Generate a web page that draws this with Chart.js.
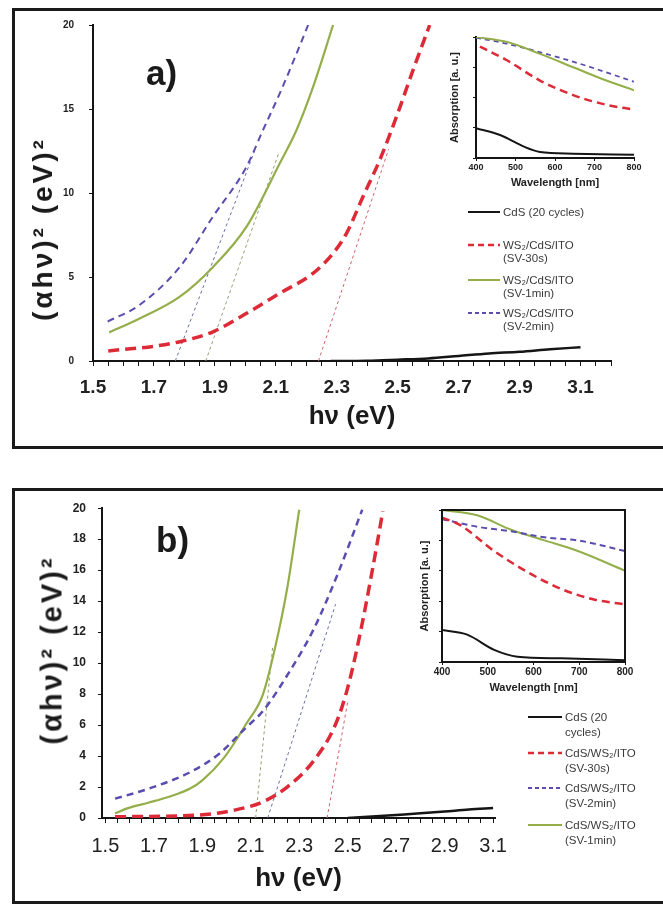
<!DOCTYPE html>
<html>
<head>
<meta charset="utf-8">
<script src="https://cdn.jsdelivr.net/npm/chart.js@4.4.0/dist/chart.umd.min.js"></script>
<style>
  body { margin: 0; background: #fff; width: 663px; height: 905px; overflow: hidden; position: relative;
         font-family: 'Liberation Sans', Arial, sans-serif; }
  .box { position: absolute; border: 3px solid #1a1a1a; box-sizing: border-box; }
  canvas { position: absolute; }
  .tag { position: absolute; font-weight: bold; color: #1a1a1a; line-height: 1; }
  .ytitle { position: absolute; font-weight: bold; color: #1a1a1a; white-space: nowrap; letter-spacing: 3px;
            transform: translate(-50%, -50%) rotate(-90deg); line-height: 1; }
  .leg { position: absolute; font-size: 11.5px; color: #3a3a3a; white-space: nowrap; }
  .leg svg { position: absolute; overflow: visible; }
</style>
</head>
<body>
<div class="box" style="left:12px; top:8px; width:670px; height:441px;"></div>
<div class="box" style="left:12px; top:488px; width:670px; height:416px;"></div>

<canvas id="mainA" width="663" height="447" style="left:0; top:0;"></canvas>
<canvas id="insetA" width="223" height="170" style="left:440px; top:25px;"></canvas>
<canvas id="mainB" width="663" height="413" style="left:0; top:489px;"></canvas>
<canvas id="insetB" width="258" height="205" style="left:405px; top:495px;"></canvas>

<div class="tag" style="left:146px; top:55px; font-size:35px;">a)</div>
<div class="tag" style="left:156px; top:522px; font-size:35px;">b)</div>
<div class="ytitle" style="left:43px; top:229px; font-size:28px;">(αhν)² (eV)²</div>
<div class="ytitle" style="left:52px; top:650px; font-size:29px;">(αhν)² (eV)²</div>

<script>
// ---- panel a: Tauc plot, hv (eV) vs (ahv)^2 ----
const aCdsX  = [2.28, 2.4, 2.5, 2.6, 2.7, 2.8, 2.9, 3.0, 3.1];
const aCdsY  = [0, 0.02, 0.08, 0.15, 0.3, 0.45, 0.55, 0.7, 0.82];
const a30sX  = [1.55, 1.71, 1.785, 1.894, 2.004, 2.113, 2.222, 2.288, 2.332, 2.386, 2.441, 2.496, 2.55, 2.605];
const a30sY  = [0.6, 0.9, 1.15, 1.74, 2.84, 4.03, 5.22, 6.41, 7.6, 9.78, 11.96, 14.54, 17.3, 20];
const a1minX = [1.553, 1.65, 1.785, 1.894, 2.004, 2.113, 2.168, 2.222, 2.288];
const a1minY = [1.7, 2.5, 3.83, 5.6, 8.0, 11.77, 13.75, 16.3, 20];
const a2minX = [1.548, 1.65, 1.785, 1.894, 2.004, 2.058, 2.113, 2.168, 2.206];
const a2minY = [2.35, 3.3, 5.6, 8.6, 11.57, 13.75, 15.93, 18.3, 20];
// linear fits (band gap extrapolation)
const aFit2minX = [1.77, 2.03];  const aFit2minY = [0, 12.5];
const aFit1minX = [1.87, 2.11];  const aFit1minY = [0, 12.4];
const aFit30sX  = [2.24, 2.47];  const aFit30sY  = [0, 12.6];
const aTickLabels = ['1.5', '1.7', '1.9', '2.1', '2.3', '2.5', '2.7', '2.9', '3.1'];

// ---- panel a inset: absorption vs wavelength (nm) ----
const aInsCdsX  = [400, 461, 520, 562, 646, 800];
const aInsCdsY  = [0.247, 0.19, 0.096, 0.05, 0.036, 0.027];
const aIns30sX  = [410, 477, 562, 646, 730, 800];
const aIns30sY  = [0.92, 0.81, 0.64, 0.52, 0.44, 0.40];
const aIns1minX = [400, 477, 562, 646, 730, 800];
const aIns1minY = [1.0, 0.96, 0.86, 0.75, 0.64, 0.56];
const aIns2minX = [400, 477, 604, 688, 800];
const aIns2minY = [0.995, 0.945, 0.836, 0.753, 0.63];

// ---- panel b ----
const bCdsX  = [2.5, 2.6, 2.7, 2.8, 2.9, 3.0, 3.1];
const bCdsY  = [0, 0.1, 0.2, 0.3, 0.42, 0.55, 0.65];
const b30sX  = [1.54, 1.89, 2.03, 2.15, 2.25, 2.36, 2.45, 2.5, 2.55, 2.6, 2.645];
const b30sY  = [0.08, 0.19, 0.5, 1.04, 2.0, 3.7, 6.05, 8.4, 11.8, 15.85, 19.8];
const b2minX = [1.54, 1.68, 1.85, 1.97, 2.08, 2.15, 2.25, 2.36, 2.46, 2.56];
const b2minY = [1.25, 1.9, 2.96, 4.15, 5.83, 6.9, 9.2, 12.2, 15.8, 19.9];
const b1minX = [1.54, 1.59, 1.68, 1.76, 1.85, 1.9, 1.99, 2.08, 2.15, 2.2, 2.25, 2.3];
const b1minY = [0.3, 0.62, 1.0, 1.36, 1.9, 2.43, 3.9, 6.05, 7.97, 10.97, 14.8, 19.9];
const bFit1minX = [2.12, 2.19];  const bFit1minY = [0, 11];
const bFit2minX = [2.17, 2.45];  const bFit2minY = [0, 13.8];
const bFit30sX  = [2.415, 2.5];  const bFit30sY  = [0, 7.5];
const bTickLabels = ['1.5', '1.7', '1.9', '2.1', '2.3', '2.5', '2.7', '2.9', '3.1'];

const bInsCdsX  = [400, 455, 514, 565, 661, 800];
const bInsCdsY  = [0.21, 0.18, 0.08, 0.035, 0.024, 0.012];
const bIns30sX  = [400, 440, 514, 588, 661, 734, 800];
const bIns30sY  = [0.95, 0.9, 0.73, 0.59, 0.48, 0.41, 0.38];
const bIns2minX = [400, 477, 551, 624, 697, 800];
const bIns2minY = [0.94, 0.89, 0.86, 0.82, 0.8, 0.73];
const bIns1minX = [400, 477, 551, 624, 697, 800];
const bIns1minY = [1.0, 0.965, 0.87, 0.8, 0.73, 0.6];

const aLegend = [['CdS (20 cycles)'], ['WS₂/CdS/ITO', '(SV-30s)'], ['WS₂/CdS/ITO', '(SV-1min)'], ['WS₂/CdS/ITO', '(SV-2min)']];
const bLegend = [['CdS (20', 'cycles)'], ['CdS/WS₂/ITO', '(SV-30s)'], ['CdS/WS₂/ITO', '(SV-2min)'], ['CdS/WS₂/ITO', '(SV-1min)']];

const RED = '#dc2a36', BLUE = '#5a4db0', GREEN = '#94ae4a', BLACK = '#151515';
const FONT = "'Liberation Sans', Arial, sans-serif";
Chart.defaults.font.family = FONT;

function pts(xs, ys) {
    return xs.map((x, i) => ({ x: x, y: ys[i] }));
}

function curve(label, xs, ys, color, width, dash) {
    return {
        label: label,
        data: pts(xs, ys),
        borderColor: color,
        borderWidth: width,
        borderDash: dash || [],
        pointRadius: 0,
        fill: false,
        cubicInterpolationMode: 'monotone'
    };
}

function fitLine(xs, ys, color) {
    return { label: 'fit', data: pts(xs, ys), borderColor: color, borderWidth: 1,
             borderDash: [3, 3], pointRadius: 0, fill: false };
}

// minor ticks every 0.05 eV between the labelled ones
function energyTicks(labels, upTo) {
    const first = parseFloat(labels[0]);
    const out = [];
    for (let i = 0; first + i * 0.05 <= upTo + 1e-9; i++) {
        out.push({ value: Math.round((first + i * 0.05) * 1000) / 1000 });
    }
    return out;
}

// strokes the whole plot area (inset b has a closed frame)
const framePlugin = {
    id: 'frame',
    afterDraw(chart, args, opts) {
        if (!opts.show) return;
        const a = chart.chartArea, ctx = chart.ctx;
        ctx.save();
        ctx.strokeStyle = BLACK;
        ctx.lineWidth = 2;
        ctx.strokeRect(a.left, a.top, a.right - a.left, a.bottom - a.top);
        ctx.restore();
    }
};

function mainChart(id, datasets, o) {
    new Chart(document.getElementById(id), {
        type: 'line',
        data: { datasets: datasets },
        options: {
            responsive: false,
            animation: false,
            layout: { padding: { top: o.top, right: o.right, left: 0, bottom: 0 } },
            plugins: { legend: { display: false }, tooltip: { enabled: false } },
            scales: {
                x: {
                    type: 'linear', min: o.xMin, max: o.xMax,
                    afterFit: s => { s.height = o.xHeight; },
                    afterBuildTicks: s => { s.ticks = energyTicks(o.labels, o.tickEnd); },
                    ticks: {
                        autoSkip: false, maxRotation: 0, padding: o.xPad,
                        color: '#222', font: { size: o.xSize, weight: o.xWeight },
                        callback: v => {
                            const k = (v - 1.5) / 0.2;
                            return Math.abs(k - Math.round(k)) < 1e-6 ? o.labels[Math.round(k)] : '';
                        }
                    },
                    grid: { drawOnChartArea: false, tickLength: 5, color: BLACK },
                    border: { color: BLACK, width: 2 },
                    title: { display: true, text: 'hν (eV)', color: '#1a1a1a',
                             font: { size: 26, weight: 'bold' }, padding: { top: 0, bottom: o.titlePad } }
                },
                y: {
                    min: 0, max: 20,
                    afterFit: s => { s.width = o.yWidth; },
                    ticks: { stepSize: o.yStep, padding: o.yPad, color: '#222',
                             font: { size: o.ySize, weight: 'bold' } },
                    grid: { drawOnChartArea: false, tickLength: 4, color: BLACK },
                    border: { color: BLACK, width: 2 }
                }
            }
        }
    });
}

function insetChart(id, datasets, o) {
    new Chart(document.getElementById(id), {
        type: 'line',
        data: { datasets: datasets },
        options: {
            responsive: false,
            animation: false,
            layout: { padding: { top: o.top, right: o.right, left: 0, bottom: 0 } },
            plugins: { legend: { display: false }, tooltip: { enabled: false }, frame: { show: o.frame } },
            scales: {
                x: {
                    type: 'linear', min: 400, max: 800,
                    afterFit: s => { s.height = o.xHeight; },
                    ticks: { stepSize: 100, maxRotation: 0, padding: 1, color: '#222',
                             font: { size: o.tickSize, weight: 'bold' } },
                    grid: { drawOnChartArea: false, tickLength: 3, color: BLACK },
                    border: { color: BLACK, width: 2 },
                    title: { display: true, text: 'Wavelength [nm]', color: '#222',
                             font: { size: 11, weight: 'bold' }, padding: { top: 0, bottom: o.titlePad } }
                },
                y: {
                    min: 0, max: 1,
                    afterFit: s => { s.width = o.yWidth; },
                    ticks: { stepSize: o.yStep, callback: () => '' },
                    grid: { drawOnChartArea: false, tickLength: 3, color: BLACK },
                    border: { color: BLACK, width: 2 },
                    title: { display: true, text: 'Absorption [a. u.]', color: '#222',
                             font: { size: 11, weight: 'bold' }, padding: { top: o.yTitlePad, bottom: 0 } }
                }
            }
        },
        plugins: [framePlugin]
    });
}

// HTML legend: swatch line + wrapped label
function legend(x0, x1, textX, ys, labels, styles, lineH) {
    labels.forEach((lines, i) => {
        const st = styles[i];
        const svg = document.createElementNS('http://www.w3.org/2000/svg', 'svg');
        svg.setAttribute('width', x1 - x0);
        svg.setAttribute('height', 6);
        svg.style.left = x0 + 'px';
        svg.style.top = (ys[i] - 3) + 'px';
        svg.innerHTML = '<line x1="0" y1="3" x2="' + (x1 - x0) + '" y2="3" stroke="' + st.color +
            '" stroke-width="' + st.width + '" stroke-dasharray="' + (st.dash || []).join(',') + '"/>';
        const wrap = document.createElement('div');
        wrap.className = 'leg';
        wrap.style.left = '0px';
        wrap.style.top = '0px';
        wrap.appendChild(svg);
        document.body.appendChild(wrap);
        const txt = document.createElement('div');
        txt.className = 'leg';
        txt.style.left = textX + 'px';
        txt.style.top = (ys[i] - lineH / 2) + 'px';
        txt.style.lineHeight = lineH + 'px';
        txt.innerHTML = lines.join('<br>');
        document.body.appendChild(txt);
    });
}

mainChart('mainA', [
    curve('CdS (20 cycles)', aCdsX, aCdsY, BLACK, 2.5),
    curve('WS2/CdS/ITO (SV-30s)', a30sX, a30sY, RED, 3.5, [11, 6]),
    curve('WS2/CdS/ITO (SV-1min)', a1minX, a1minY, GREEN, 2.2),
    curve('WS2/CdS/ITO (SV-2min)', a2minX, a2minY, BLUE, 2, [7, 5]),
    fitLine(aFit2minX, aFit2minY, '#6a6fa0'),
    fitLine(aFit1minX, aFit1minY, '#8fa070'),
    fitLine(aFit30sX, aFit30sY, '#d0606a')
], { top: 25, right: 52, xMin: 1.5, xMax: 3.2, tickEnd: 3.2, xHeight: 86, yWidth: 93, xPad: 10, titlePad: 15,
     xSize: 19, xWeight: 'bold', labels: aTickLabels, yStep: 5, yPad: 15, ySize: 10 });

insetChart('insetA', [
    curve('CdS', aInsCdsX, aInsCdsY, BLACK, 2),
    curve('SV-30s', aIns30sX, aIns30sY, RED, 2.5, [8, 5]),
    curve('SV-1min', aIns1minX, aIns1minY, GREEN, 2),
    curve('SV-2min', aIns2minX, aIns2minY, BLUE, 1.8, [5, 4])
], { top: 12, right: 29, xHeight: 37, yWidth: 36, titlePad: 5.4, yTitlePad: 8.4, tickSize: 9, yStep: 0.25, frame: false });

mainChart('mainB', [
    curve('CdS (20 cycles)', bCdsX, bCdsY, BLACK, 2.5),
    curve('CdS/WS2/ITO (SV-30s)', b30sX, b30sY, RED, 3.5, [11, 6]),
    curve('CdS/WS2/ITO (SV-2min)', b2minX, b2minY, BLUE, 2.5, [7, 5]),
    curve('CdS/WS2/ITO (SV-1min)', b1minX, b1minY, GREEN, 2.2),
    fitLine(bFit1minX, bFit1minY, '#8fa070'),
    fitLine(bFit2minX, bFit2minY, '#6a6fa0'),
    fitLine(bFit30sX, bFit30sY, '#d0606a')
], { top: 16, right: 168, xMin: 1.486, xMax: 3.108, tickEnd: 3.1, xHeight: 84, yWidth: 102, xPad: 11, titlePad: 7.6,
     xSize: 20, xWeight: 'normal', labels: bTickLabels, yStep: 2, yPad: 12, ySize: 12 });

insetChart('insetB', [
    curve('CdS', bInsCdsX, bInsCdsY, BLACK, 2),
    curve('SV-30s', bIns30sX, bIns30sY, RED, 2.5, [8, 5]),
    curve('SV-2min', bIns2minX, bIns2minY, BLUE, 2, [6, 4]),
    curve('SV-1min', bIns1minX, bIns1minY, GREEN, 2)
], { top: 15, right: 38, xHeight: 38, yWidth: 37, titlePad: 5.4, yTitlePad: 13.4, tickSize: 10, yStep: 0.1, frame: true });

legend(468, 500, 503, [212, 245, 280, 313], aLegend, [
    { color: BLACK, width: 2 }, { color: RED, width: 2.5, dash: [6, 4] },
    { color: GREEN, width: 2 }, { color: BLUE, width: 2, dash: [4, 3] }
], 13);
legend(528, 562, 565, [717, 753, 788, 825], bLegend, [
    { color: BLACK, width: 2 }, { color: RED, width: 2.5, dash: [6, 4] },
    { color: BLUE, width: 2, dash: [4, 3] }, { color: GREEN, width: 2 }
], 15);
</script>
</body>
</html>
